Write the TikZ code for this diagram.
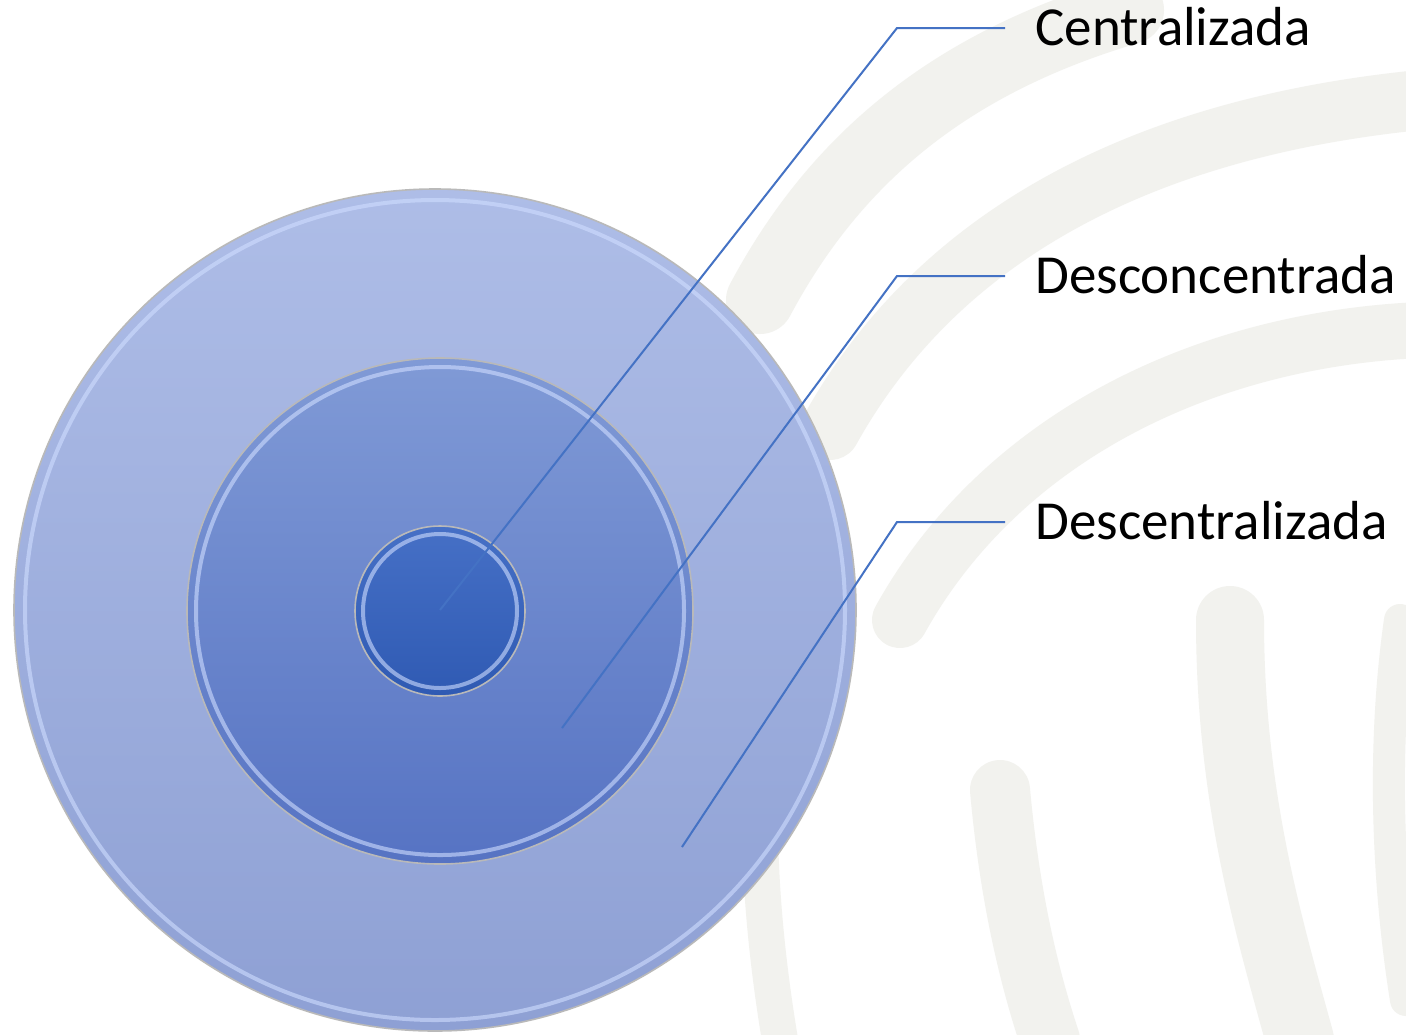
\documentclass[tikz,border=0pt]{standalone}
\usepackage{fontspec}
\setmainfont{Carlito}
\definecolor{lineblue}{HTML}{4472C4}
\definecolor{outtop}{HTML}{AEBDE7}
\definecolor{outbot}{HTML}{8EA0D4}
\definecolor{midtop}{HTML}{809AD6}
\definecolor{midbot}{HTML}{5673C3}
\definecolor{intop}{HTML}{4670C6}
\definecolor{inbot}{HTML}{2F5AB3}
\definecolor{brush}{HTML}{F2F2EE}
\definecolor{hilite}{HTML}{CFDDFF}
\tikzset{
  leader/.style={draw=lineblue, line width=1pt},
  label/.style={anchor=base west, inner sep=0pt, font=\fontsize{27.5}{31}\selectfont},
  rim/.style={draw=gray!55, line width=0.8pt},
  glow/.style={draw=hilite, line width=2pt, opacity=0.6},
  stroke/.style={draw=brush, line cap=round, line width=#1},
}
\begin{document}
\begin{tikzpicture}[x=0.5pt,y=-0.5pt]
\useasboundingbox (0,0) rectangle (1406,1034);
\fill[white] (0,0) rectangle (1406,1034);
% background brush strokes
\begin{scope}
\clip (0,0) rectangle (1406,1034);
\draw[stroke=34pt] (760,300) .. controls (840,150) and (960,60) .. (1130,10);
\draw[stroke=30pt] (830,430) .. controls (930,250) and (1120,130) .. (1420,100);
\draw[stroke=28pt] (900,620) .. controls (1000,440) and (1200,340) .. (1420,330);
\draw[stroke=30pt] (1000,790) .. controls (1010,900) and (1030,980) .. (1050,1040);
\draw[stroke=34pt] (1230,620) .. controls (1230,800) and (1270,930) .. (1300,1040);
\draw[stroke=18pt] (760,820) .. controls (760,900) and (770,980) .. (780,1040);
\draw[stroke=16pt] (1400,620) .. controls (1380,760) and (1390,900) .. (1406,1000);
\end{scope}
% outer disc
\node[circle, minimum size=421pt, inner sep=0pt, top color=outtop, bottom color=outbot, rim] (outer) at (435,610) {};
\draw[glow] (435,610) circle[radius=410];
% middle disc
\node[circle, minimum size=253pt, inner sep=0pt, top color=midtop, bottom color=midbot, rim] (middle) at (440,611) {};
\draw[glow] (440,611) circle[radius=244];
% inner disc
\node[circle, minimum size=85pt, inner sep=0pt, top color=intop, bottom color=inbot, rim] (inner) at (440,611) {};
\draw[glow] (440,611) circle[radius=77];
% anchors of leaders
\coordinate (p1) at (440,610);
\coordinate (p2) at (562,728);
\coordinate (p3) at (682,847);
\coordinate (k1) at (897,28);
\coordinate (k2) at (897,276);
\coordinate (k3) at (897,522);
\coordinate (e1) at (1005,28);
\coordinate (e2) at (1005,276);
\coordinate (e3) at (1005,522);
\draw[leader] (p1) -- (k1) -- (e1);
\draw[leader] (p2) -- (k2) -- (e2);
\draw[leader] (p3) -- (k3) -- (e3);
% labels
\node[label] (t1) at (1035,45) {Centralizada};
\node[label] (t2) at (1035,293) {Desconcentrada};
\node[label] (t3) at (1035,539) {Descentralizada};
\end{tikzpicture}
\end{document}
